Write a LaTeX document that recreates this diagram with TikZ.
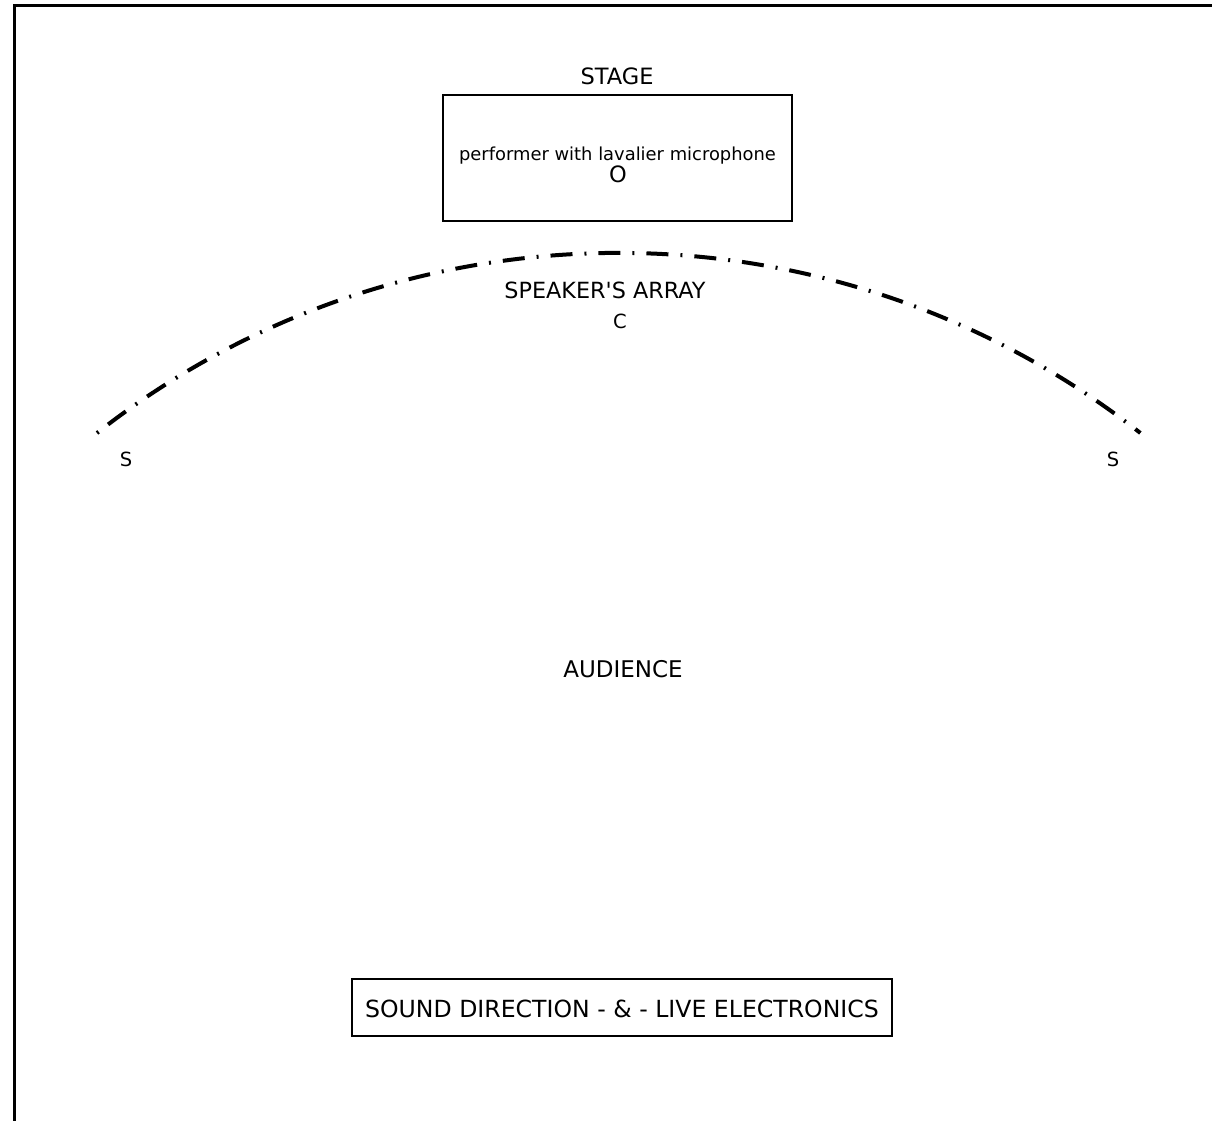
\documentclass[tikz,border=0pt]{standalone}
\usepackage{fontspec}
\setmainfont{DejaVu Sans}[Ligatures=TeXOff]
\begin{document}
\begin{tikzpicture}[x=1pt,y=-1pt,
  lbl/.style={inner sep=0pt,anchor=base},
  boxed/.style={draw,line width=2pt,inner sep=0pt},
  arrayline/.style={line width=4pt,dash pattern=on 2pt off 12pt on 22pt off 12pt}]
\useasboundingbox (0,0) rectangle (1212,1121);
% frame
\coordinate (fb) at (14,1125);
\coordinate (ftl) at (14,6);
\coordinate (fr) at (1216,6);
\draw[line width=3pt] (fb) -- (ftl) -- (fr);
% stage
\node[lbl,font=\fontsize{22.5}{26}\selectfont] (stagelbl) at (617,85) {STAGE};
\node[boxed,minimum width=349pt,minimum height=126pt] (stagebox) at (617.5,158) {};
\node[lbl,font=\fontsize{17.9}{21}\selectfont] (performer) at (617.5,160) {performer with lavalier microphone};
\node[lbl,font=\fontsize{22.5}{26}\selectfont] (omark) at (618,182) {O};
% speaker array
\coordinate (arcL) at (97,433);
\draw[arrayline] (arcL) arc[start angle=-128.1,end angle=-51.9,radius=845.5];
\node[lbl,font=\fontsize{22.3}{26}\selectfont] (arraylbl) at (605,298) {SPEAKER'S ARRAY};
\node[lbl,font=\fontsize{19.5}{23}\selectfont] (cmark) at (620,328) {C};
\node[lbl,font=\fontsize{19.5}{23}\selectfont] (sleft) at (126,466) {S};
\node[lbl,font=\fontsize{19.5}{23}\selectfont] (sright) at (1113,466) {S};
% audience
\node[lbl,font=\fontsize{23}{27}\selectfont] (audience) at (623,677) {AUDIENCE};
% control
\node[boxed,minimum width=540pt,minimum height=57pt] (ctrlbox) at (622,1007.5) {};
\node[lbl,font=\fontsize{23.6}{27}\selectfont] (ctrl) at (622,1017) {SOUND DIRECTION - \& - LIVE ELECTRONICS};
\end{tikzpicture}
\end{document}
